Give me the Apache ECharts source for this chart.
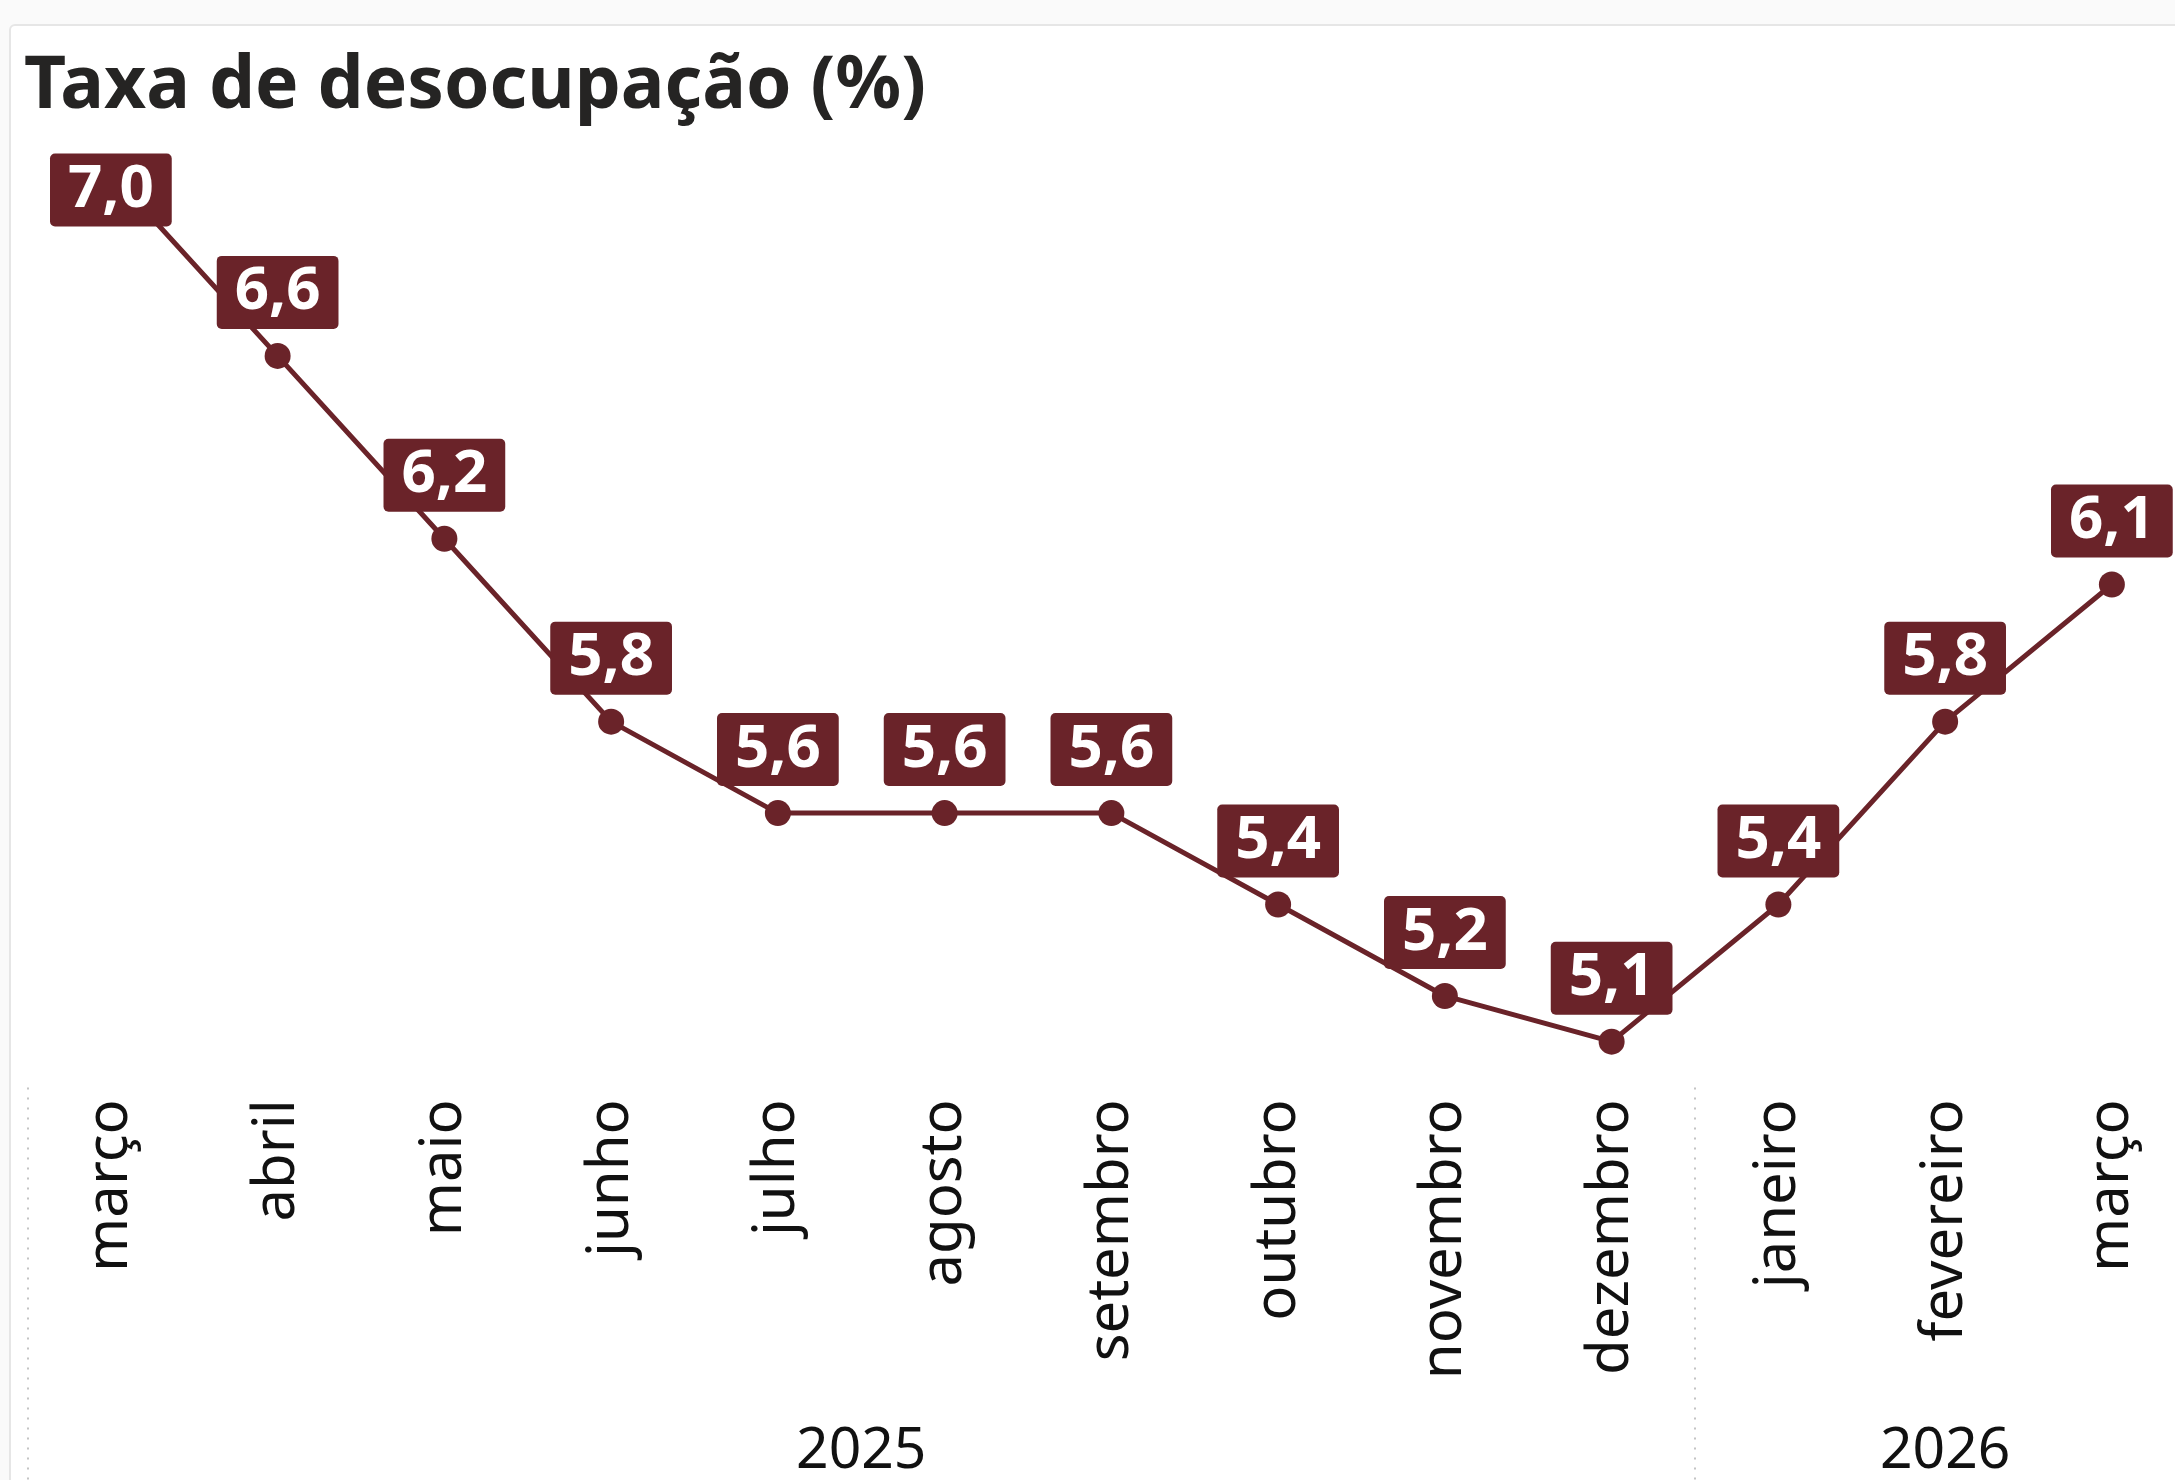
<!DOCTYPE html>
<html>
<head>
<meta charset="utf-8">
<script src="https://cdn.jsdelivr.net/npm/echarts@6/dist/echarts.min.js"></script>
<style>
  html, body { margin: 0; padding: 0; background: #fafafa; }
  .card {
    position: absolute; left: 9px; top: 24px; width: 2300px; height: 1600px;
    background: #fff; border: 2px solid #e6e6e6; border-radius: 6px;
  }
  #chart { position: absolute; left: 0; top: 0; width: 2175px; height: 1480px; }
</style>
</head>
<body>
<div class="card"></div>
<div id="chart"></div>
<script>
// meses (mar/2025 - mar/2026)
const meses = ["março", "abril", "maio", "junho", "julho", "agosto", "setembro",
  "outubro", "novembro", "dezembro", "janeiro", "fevereiro", "março"];
// taxa de desocupação (%)
const taxa = [7.0, 6.6, 6.2, 5.8, 5.6, 5.6, 5.6, 5.4, 5.2, 5.1, 5.4, 5.8, 6.1];
// anos: posição central (índice) e limites dos grupos
const anos = ["2025", "2026"];
const anosCentro = [4.5, 11];
const anosLimites = [-0.5, 9.5, 12.5];

const cor = "#6a2329";
const fonte = "Noto Sans";

const chart = echarts.init(document.getElementById("chart"));

const option = {
  animation: false,
  title: {
    text: "Taxa de desocupação (%)",
    left: 19,
    top: 46,
    textStyle: { fontFamily: fonte, fontSize: 73, fontWeight: "bold", color: "#252423" },
  },
  // a grade passa um pouco da borda direita, como no original
  grid: {
    left: 27.5,
    width: 2167.75,
    top: 127.3,
    bottom: 392.6,
    containLabel: false,
    outerBoundsMode: "none",
  },
  xAxis: [
    {
      type: "category",
      data: meses,
      boundaryGap: true,
      position: "bottom",
      axisLine: { show: false },
      axisTick: { show: false },
      axisLabel: {
        interval: 0,
        rotate: 90,
        margin: 12,
        fontFamily: fonte,
        fontSize: 58,
        color: "#111",
      },
    },
    {
      // eixo auxiliar para os anos e separadores pontilhados
      type: "value",
      min: -0.5,
      max: 12.5,
      position: "bottom",
      splitLine: { show: false },
      axisLine: { show: false },
      axisTick: {
        show: true,
        customValues: anosLimites,
        length: 400,
        lineStyle: { type: [2, 8], color: "#c4c4c4", width: 2 },
      },
      axisLabel: {
        customValues: anosCentro,
        formatter: (v) => anos[anosCentro.indexOf(v)],
        margin: 336,
        fontFamily: fonte,
        fontSize: 57,
        color: "#111",
      },
    },
  ],
  yAxis: {
    type: "value",
    min: 5.0,
    max: 7.1,
    show: false,
  },
  series: [
    {
      type: "line",
      xAxisIndex: 0,
      data: taxa.map((v, i) =>
        i === 0
          ? { value: v, label: { position: "inside", offset: [0, 17] } }
          : v
      ),
      symbol: "circle",
      symbolSize: 26,
      itemStyle: { color: cor },
      lineStyle: { color: cor, width: 5 },
      label: {
        show: true,
        position: "top",
        distance: 14,
        formatter: (p) => p.value.toFixed(1).replace(".", ","),
        backgroundColor: cor,
        borderRadius: 5,
        padding: [7, 18, 7, 18],
        color: "#fff",
        fontFamily: fonte,
        fontWeight: "bold",
        fontSize: 60,
        lineHeight: 59,
      },
    },
  ],
};

chart.setOption(option);
</script>
</body>
</html>
